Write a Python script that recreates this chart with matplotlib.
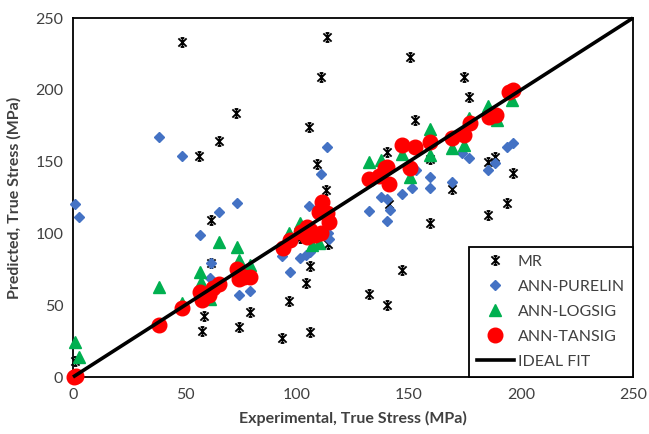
import matplotlib
matplotlib.use("Agg")
import matplotlib.pyplot as plt
from matplotlib.path import Path
from matplotlib.lines import Line2D
import numpy as np

plt.rcParams['font.family'] = ['Lato', 'DejaVu Sans']

mr_x = [48.7, 72.9, 65.3, 56.4, 61.6, 61.6, 58.6, 57.4, 74.2, 78.9, 1.0, 113.2, 150.3, 110.6,
        105.2, 152.8, 108.8, 140.3, 159.2, 112.8, 141.2, 169.3, 159.2, 113.9, 105.9, 103.9,
        96.5, 93.3, 105.9, 146.8, 132.1, 140.3, 174.4, 177.0, 185.3, 188.3, 196.3, 193.6,
        185.3, 101.5]
mr_y = [233.3, 183.8, 164.3, 153.9, 109.0, 79.6, 42.7, 32.2, 35.0, 45.5, 11.0, 236.5, 222.6, 209.1,
        173.8, 178.8, 148.3, 156.7, 151.8, 130.0, 120.5, 130.6, 107.0, 92.4, 77.3, 65.2,
        53.1, 26.9, 31.6, 74.5, 57.8, 49.9, 209.1, 195.2, 149.9, 153.0, 141.8, 121.3,
        112.8, 96.6]

pur_x = [0.9, 2.7, 38.6, 48.7, 56.5, 65.3, 73.2, 61.6, 61.3, 74.2, 78.9, 93.3, 96.7, 105.2,
         101.5, 103.8, 106.0, 113.2, 110.6, 113.9, 114.2, 132.1, 137.3, 140.3, 141.3, 140.3,
         147.0, 151.5, 159.2, 159.4, 169.3, 173.8, 176.8, 185.3, 188.3, 193.9, 196.6, 153.2]
pur_y = [120.5, 111.2, 167.1, 154.1, 98.9, 115.1, 121.4, 79.2, 69.2, 57.1, 59.9, 84.3, 73.3, 119.1,
         82.6, 85.0, 87.3, 160.4, 141.4, 100.0, 95.9, 115.6, 125.6, 123.7, 116.3, 108.8,
         127.2, 131.3, 131.3, 139.4, 136.0, 155.7, 152.3, 144.2, 148.8, 160.4, 162.7, 144.5]

log_x = [0.9, 2.7, 38.6, 48.6, 56.5, 57.1, 61.3, 65.2, 73.1, 74.2, 79.2, 96.6, 101.2, 106.7,
         109.7, 132.0, 137.3, 147.0, 150.5, 159.2, 159.2, 169.3, 174.6, 177.0, 185.4, 189.3, 196.2]
log_y = [24.6, 14.1, 62.9, 51.7, 73.3, 66.4, 54.1, 94.2, 90.5, 81.2, 78.0, 100.0, 107.0, 91.9,
         93.0, 149.7, 151.1, 155.5, 139.0, 172.8, 154.5, 159.8, 161.6, 180.5, 188.8, 179.0, 193.1]

tan_x = [0.5, 1.5, 38.6, 48.6, 56.8, 57.6, 60.5, 62.5, 65.3, 73.2, 74.2, 76.2, 79.2, 93.9, 96.8,
         101.8, 104.5, 106.0, 104.5, 108.2, 110.5, 111.2, 109.7, 113.5, 114.2, 132.1, 136.8,
         139.5, 141.0, 140.3, 147.1, 152.5, 150.5, 159.3, 169.3, 174.6, 177.2, 185.7, 188.7,
         194.7, 196.6]
tan_y = [0.0, 0.5, 36.5, 47.8, 59.4, 53.6, 57.1, 62.0, 65.0, 75.3, 68.0, 69.4, 69.8, 89.6, 95.4,
         101.2, 104.7, 102.4, 97.7, 98.9, 100.0, 121.8, 114.8, 113.9, 108.1, 138.0, 140.0,
         145.3, 134.5, 146.4, 161.8, 160.4, 145.3, 163.9, 166.2, 168.5, 177.1, 181.3, 182.5,
         198.7, 199.9]

fit_x = [0, 250]
fit_y = [0, 250]

ticks = [0, 50, 100, 150, 200, 250]

# Excel-like star marker: X + vertical bar with small caps
star = Path([(-1, -1), (1, 1), (-1, 1), (1, -1), (0, -1.1), (0, 1.1),
             (-0.45, 1.1), (0.45, 1.1), (-0.45, -1.1), (0.45, -1.1)],
            [Path.MOVETO, Path.LINETO] * 5)

fig = plt.figure(figsize=(6.49, 4.34), dpi=100)
ax = fig.add_axes([0.1125, 0.1313, 0.8628, 0.8272])

ax.plot(mr_x, mr_y, linestyle='none', marker=star, ms=6.5, mec='black', mew=1.3,
        clip_on=False, zorder=3)
ax.plot(pur_x, pur_y, linestyle='none', marker='D', ms=5.2, mfc='#4472C4', mec='#4472C4',
        clip_on=False, zorder=4)
ax.plot(log_x, log_y, linestyle='none', marker='^', ms=8, mfc='#00B050', mec='#00B050',
        clip_on=False, zorder=5)
ax.plot(tan_x, tan_y, linestyle='none', marker='o', ms=10.5, mfc='#FF0000', mec='#FF0000',
        clip_on=False, zorder=6)
ax.plot(fit_x, fit_y, color='black', lw=2.6, clip_on=False, zorder=7, solid_capstyle='butt')

ax.set_xlim(0, 250)
ax.set_ylim(0, 250)
ax.set_xticks(ticks)
ax.set_yticks(ticks)
ax.tick_params(length=0, labelsize=11.5, pad=7, colors='#404040')
ax.tick_params(axis='x', pad=8)
for s in ax.spines.values():
    s.set_linewidth(1.3)
    s.set_color('black')

ax.set_xlabel('Experimental, True Stress (MPa)', fontsize=11.5, fontweight='bold',
              color='#404040', labelpad=6)
ax.set_ylabel('Predicted, True Stress (MPa)', fontsize=11.5, fontweight='bold',
              color='#404040', labelpad=10)

handles = [
    Line2D([], [], linestyle='none', marker=star, ms=6.5, mec='black', mew=1.3),
    Line2D([], [], linestyle='none', marker='D', ms=5.2, mfc='#4472C4', mec='#4472C4'),
    Line2D([], [], linestyle='none', marker='^', ms=8, mfc='#00B050', mec='#00B050'),
    Line2D([], [], linestyle='none', marker='o', ms=10.5, mfc='#FF0000', mec='#FF0000'),
    Line2D([], [], color='black', lw=2.6),
]
labels = ['MR', 'ANN-PURELIN', 'ANN-LOGSIG', 'ANN-TANSIG', 'IDEAL FIT']
leg = ax.legend(handles, labels, loc='lower right', bbox_to_anchor=(1, 0),
                borderaxespad=0, fancybox=False, edgecolor='black', framealpha=1,
                fontsize=11.5, handlelength=2.3, handletextpad=0.25, labelspacing=0.68,
                borderpad=0.5, labelcolor='#404040')
leg.get_frame().set_linewidth(1.3)
leg.set_zorder(10)

fig.savefig('out.png', dpi=100)
